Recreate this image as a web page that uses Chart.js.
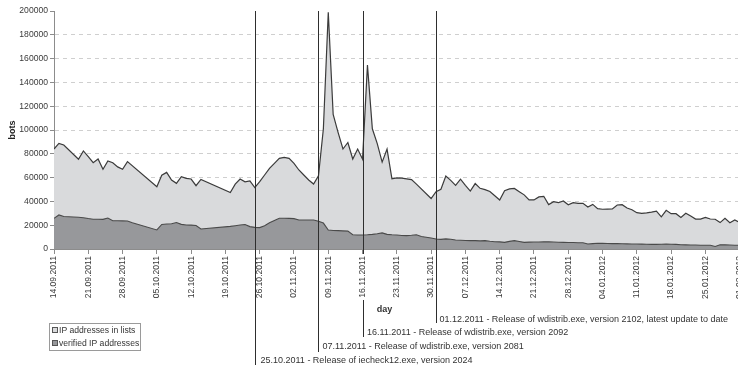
<!DOCTYPE html>
<html>
<head>
<meta charset="utf-8">
<title>bots per day</title>
<script src="https://cdn.jsdelivr.net/npm/chart.js@4.4.1/dist/chart.umd.min.js"></script>
<style>
  html, body { margin: 0; padding: 0; background: #fff; overflow: hidden; width: 738px; height: 368px; }
  canvas { display: block; }
</style>
</head>
<body>
<canvas id="bots" width="752" height="368"></canvas>
<script>
// Daily counts; null = no count for that series on that day.
const days = [
  '14.09.2011','15.09.2011','16.09.2011','19.09.2011','20.09.2011','21.09.2011','22.09.2011','23.09.2011',
  '24.09.2011','25.09.2011','26.09.2011','27.09.2011','28.09.2011','29.09.2011','30.09.2011',
  '05.10.2011','06.10.2011','07.10.2011','08.10.2011','09.10.2011','10.10.2011','11.10.2011','12.10.2011',
  '13.10.2011','14.10.2011','20.10.2011','21.10.2011','22.10.2011','23.10.2011','24.10.2011','25.10.2011',
  '26.10.2011','27.10.2011','28.10.2011','29.10.2011','30.10.2011','31.10.2011',
  '01.11.2011','02.11.2011','03.11.2011','04.11.2011','05.11.2011','06.11.2011','07.11.2011','08.11.2011',
  '09.11.2011','10.11.2011','11.11.2011','12.11.2011','13.11.2011','14.11.2011','15.11.2011','16.11.2011',
  '17.11.2011','18.11.2011','19.11.2011','20.11.2011','21.11.2011','22.11.2011','23.11.2011','24.11.2011',
  '25.11.2011','26.11.2011','27.11.2011','28.11.2011','30.11.2011',
  '01.12.2011','02.12.2011','03.12.2011','04.12.2011','05.12.2011','06.12.2011','07.12.2011','08.12.2011',
  '09.12.2011','10.12.2011','11.12.2011','12.12.2011','13.12.2011','14.12.2011','15.12.2011','16.12.2011',
  '17.12.2011','18.12.2011','19.12.2011','20.12.2011','21.12.2011','22.12.2011','23.12.2011','24.12.2011',
  '25.12.2011','26.12.2011','27.12.2011','28.12.2011','29.12.2011','30.12.2011','31.12.2011',
  '01.01.2012','02.01.2012','03.01.2012','04.01.2012','05.01.2012','06.01.2012','07.01.2012','08.01.2012',
  '09.01.2012','10.01.2012','11.01.2012','12.01.2012','13.01.2012','14.01.2012','15.01.2012','16.01.2012',
  '17.01.2012','18.01.2012','19.01.2012','20.01.2012','21.01.2012','22.01.2012','23.01.2012','24.01.2012',
  '25.01.2012','26.01.2012','27.01.2012','28.01.2012','29.01.2012','30.01.2012','31.01.2012','01.02.2012'
];

const listedIPs = [
  84000, 88800, 87400, 75400, 82400, 77600, 72500, 75600,
  67000, 74000, 72500, 69000, 67000, 73400, null,
  52400, 62000, 64400, 58000, 55200, 60800, 59400, 58800,
  53200, 58500, 47500, 54500, 58800, 56500, 57200, 51600,
  56600, 62200, 67800, 72000, 76200, 77000,
  76200, 72000, 66400, 62200, 58000, 54600, 61600, 101000,
  199000, 113000, 98000, 84000, 89500, 75600, 84000, 75500,
  154500, 101000, 88500, 73000, 84000, 59000, 59700, 59500,
  59000, 58300, 54500, null, 42400,
  48200, 50200, 61400, 57700, 53500, 58700, 53500, 48700,
  55000, 51000, 49900, 48300, 44800, 41200, 49000, 50500,
  50900, 48200, 45500, 41200, 41200, 43800, 44300, 37300,
  39700, 38900, 40300, 37200, 38900, 38400, 38400,
  35300, 37500, 33900, 33400, 33500, 33600, 37000, 37200,
  34500, 33000, 30500, 30000, 30300, 31000, 31800, 27000,
  32500, 29700, 29700, 26500, 30000, 27700, 25100, 25100,
  26600, 25200, 25000, 22200, 25800, 22100, 24400, 22200
];

const verifiedIPs = [
  25800, 28600, 27300, 26700, 26300, 25600, 25000, 25000,
  24900, 26000, 23800, 23700, 23600, 23500, 22000,
  16000, 20600, 21000, 21200, 22200, 20700, 20200, 20100,
  19800, 16800, 19000, 19600, 20200, 20600, 18800, 18200,
  18000, 19500, 22000, 24000, 25800, 25800,
  25700, 25500, 24400, 24400, 24400, 24400, 23400, 21800,
  16000, 15600, 15400, 15200, 15000, 12000, 11800, 11800,
  12000, 12300, 12800, 13500, 12300, 12000, 11800, 11400,
  11200, 11500, 12000, 10500, 9200,
  8400, 8100, 8500, 8200, 7600, 7400, 7100, 7000,
  7000, 6800, 7000, 6500, 6100, 6000, 5600, 6400,
  7000, 6300, 5600, 5800, 5900, 5900, 6000, 6100,
  5900, 5700, 5600, 5500, 5400, 5300, 5300,
  4200, 4500, 4800, 4700, 4600, 4500, 4500, 4400,
  4300, 4200, 4200, 4100, 4000, 3900, 3900, 4000,
  4200, 4000, 3900, 3600, 3500, 3400, 3300, 3200,
  3100, 3100, 2100, 3500, 3500, 3400, 3200, 3100
];

const seriesNames = ['IP addresses in lists', 'verified IP addresses'];
const yTicks = { min: 0, max: 200000, step: 20000 };
const axisStartDay = '14.09.2011';
const axisEndDay = '01.02.2012';
const tickEveryDays = 7;

const releaseDates = ['25.10.2011', '07.11.2011', '16.11.2011', '01.12.2011'];
const releaseNotes = [
  'Release of iecheck12.exe, version 2024',
  'Release of wdistrib.exe, version 2081',
  'Release of wdistrib.exe, version 2092',
  'Release of wdistrib.exe, version 2102, latest update to date'
];

// ---- helpers ----
function parseDay(s) {
  const [d, m, y] = s.split('.').map(Number);
  return Date.UTC(y, m - 1, d);
}
const origin = parseDay(axisStartDay);
const dayIndex = s => Math.round((parseDay(s) - origin) / 86400000);
function formatDay(i) {
  const t = new Date(origin + i * 86400000);
  const dd = String(t.getUTCDate()).padStart(2, '0');
  const mm = String(t.getUTCMonth() + 1).padStart(2, '0');
  return dd + '.' + mm + '.' + t.getUTCFullYear();
}
const toPoints = vals => days.map((d, i) => ({ x: dayIndex(d), y: vals[i] }));

const FONT = "'Liberation Sans', Arial, Helvetica, sans-serif";
const TEXT = '#333';
const LINE = '#3b3b3b';
const FILL_LISTED = '#d9dadc';
const FILL_VERIFIED = '#97989b';

// where each release marker ends below the axis, and where its note sits
const noteLayout = [
  { bottom: 365, textY: 360.5, dx: 5 },
  { bottom: 352, textY: 347, dx: 4 },
  { bottom: 337, textY: 333, dx: 3.5, resumeAt: 300 },
  { bottom: 323, textY: 320, dx: 3 }
];

const annotations = {
  id: 'releaseMarkers',
  afterDatasetsDraw(chart) {
    const { ctx, chartArea, scales: { x } } = chart;
    ctx.save();
    ctx.strokeStyle = '#2e2e2e';
    ctx.lineWidth = 1;
    ctx.font = '9px ' + FONT;
    ctx.fillStyle = TEXT;
    ctx.textBaseline = 'middle';
    ctx.textAlign = 'left';
    releaseDates.forEach((d, i) => {
      const lay = noteLayout[i];
      const px = Math.round(x.getPixelForValue(dayIndex(d))) + 0.5;
      ctx.beginPath();
      ctx.moveTo(px, chartArea.top);
      if (lay.resumeAt) {
        ctx.lineTo(px, chartArea.bottom + 5);
        ctx.moveTo(px, lay.resumeAt);
      }
      ctx.lineTo(px, lay.bottom);
      ctx.stroke();
      ctx.fillText(d + ' - ' + releaseNotes[i], px + lay.dx, lay.textY);
    });

    // x axis title
    ctx.font = 'bold 9px ' + FONT;
    ctx.textAlign = 'center';
    ctx.fillText('day', 384.5, 310);

    // legend
    const box = { x: 49.5, y: 323.5, w: 91, h: 27 };
    ctx.strokeStyle = '#9a9a9a';
    ctx.strokeRect(box.x, box.y, box.w, box.h);
    ctx.font = '8.6px ' + FONT;
    ctx.textAlign = 'left';
    chart.data.datasets.forEach((ds, i) => {
      const cy = box.y + 7 + i * 13;
      ctx.fillStyle = ds.backgroundColor;
      ctx.fillRect(52.5, cy - 3, 5, 5);
      ctx.strokeStyle = '#555';
      ctx.strokeRect(52.5, cy - 3, 5, 5);
      ctx.fillStyle = TEXT;
      ctx.fillText(ds.label, 59, cy);
    });
    ctx.restore();
  }
};

Chart.defaults.font.family = FONT;
Chart.defaults.color = TEXT;

new Chart(document.getElementById('bots'), {
  type: 'line',
  data: {
    datasets: [
      {
        label: seriesNames[0],
        data: toPoints(listedIPs),
        order: 2,
        fill: 'origin',
        backgroundColor: FILL_LISTED,
        borderColor: LINE,
        borderWidth: 1.2,
        pointRadius: 0,
        tension: 0,
        spanGaps: true
      },
      {
        label: seriesNames[1],
        data: toPoints(verifiedIPs),
        order: 1,
        fill: 'origin',
        backgroundColor: FILL_VERIFIED,
        borderColor: '#4a4a4a',
        borderWidth: 1.1,
        pointRadius: 0,
        tension: 0,
        spanGaps: true
      }
    ]
  },
  options: {
    responsive: false,
    animation: false,
    events: [],
    layout: { padding: { top: 11, left: 0, right: 0, bottom: 59 } },
    plugins: { legend: { display: false }, tooltip: { enabled: false } },
    scales: {
      x: {
        type: 'linear',
        min: 0,
        max: dayIndex(axisEndDay),
        afterFit: s => { s.height = 60; },
        ticks: {
          stepSize: tickEveryDays,
          autoSkip: false,
          minRotation: 90,
          maxRotation: 90,
          padding: 2,
          font: { size: 8.6 },
          color: '#3a3a3a',
          callback: v => formatDay(v)
        },
        grid: { drawOnChartArea: false, drawTicks: true, tickLength: 5, color: '#8c8c8c' },
        border: { display: true, color: '#8c8c8c', width: 1 }
      },
      y: {
        min: yTicks.min,
        max: yTicks.max,
        afterFit: s => { s.width = 54; },
        ticks: {
          stepSize: yTicks.step,
          padding: 2,
          font: { size: 8.6 },
          color: '#3a3a3a',
          callback: v => String(v)
        },
        title: {
          display: true,
          text: 'bots',
          font: { size: 9, weight: 'bold' },
          color: '#222',
          padding: { top: 7, bottom: 0 }
        },
        grid: {
          drawTicks: true,
          tickLength: 4,
          color: c => (c.tick && (c.tick.value === yTicks.max || c.tick.value === 0)) ? 'rgba(0,0,0,0)' : '#cfcfcf',
          tickColor: '#8c8c8c'
        },
        border: { display: true, color: '#8c8c8c', width: 1, dash: [4, 4] }
      }
    }
  },
  plugins: [annotations]
});
</script>
</body>
</html>
